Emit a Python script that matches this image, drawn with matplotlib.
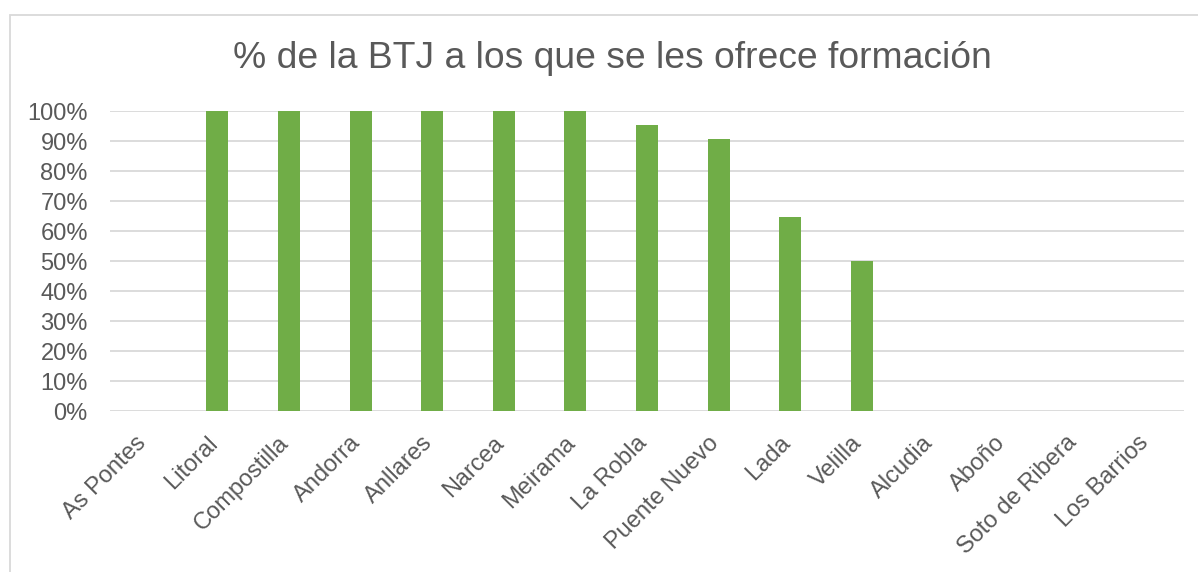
import matplotlib
matplotlib.use("Agg")
import matplotlib.pyplot as plt
from matplotlib.patches import Rectangle
from matplotlib.transforms import ScaledTranslation

# data
centrales = ["As Pontes", "Litoral", "Compostilla", "Andorra", "Anllares", "Narcea",
             "Meirama", "La Robla", "Puente Nuevo", "Lada", "Velilla", "Alcudia",
             "Aboño", "Soto de Ribera", "Los Barrios"]
pct_formacion = [0, 100, 100, 100, 100, 100, 100, 95.3, 90.8, 64.7, 49.9, 0, 0, 0, 0]

plt.rcParams['font.family'] = ['Liberation Sans', 'DejaVu Sans']
gray_txt = '#595959'
green = '#70AD47'

fig = plt.figure(figsize=(11.98, 5.72), dpi=100)
W, H = 1198, 572

# chart border
fig.patches.append(Rectangle((10 / W, -0.1), 1.2, 1 - 15 / H + 0.1, transform=fig.transFigure,
                             fill=False, edgecolor='#D9D9D9', linewidth=1.3))

ax = fig.add_axes([110 / W, 1 - 411 / H, (1184 - 110) / W, 300 / H])
x = list(range(len(centrales)))
ax.bar(x, [v / 100 for v in pct_formacion], width=0.31, color=green, zorder=3)

ax.set_xlim(-0.5, len(centrales) - 0.5)
ax.set_ylim(0, 1)
ax.set_yticks([i / 10 for i in range(11)])
ax.set_yticklabels([f"{i * 10}%" for i in range(11)], fontsize=17, color=gray_txt)
ax.yaxis.grid(True, color='#D9D9D9', linewidth=1.3, zorder=0)
ax.tick_params(axis='both', length=0)
ax.tick_params(axis='y', pad=16)
for s in ax.spines.values():
    s.set_visible(False)

ax.set_xticks(x)
ax.set_xticklabels(centrales, rotation=45, ha='right', rotation_mode='anchor',
                   fontsize=17, color=gray_txt)
ax.tick_params(axis='x', pad=15)
# nudge category labels a bit to the left, like excel does
shift = ScaledTranslation(-0.11, 0, fig.dpi_scale_trans)
for lbl in ax.get_xticklabels():
    lbl.set_transform(lbl.get_transform() + shift)

fig.text(612 / W, 1 - 58 / H, "% de la BTJ a los que se les ofrece formación",
         ha='center', va='center', fontsize=26.8, color=gray_txt)

fig.savefig("out.png", dpi=100)
